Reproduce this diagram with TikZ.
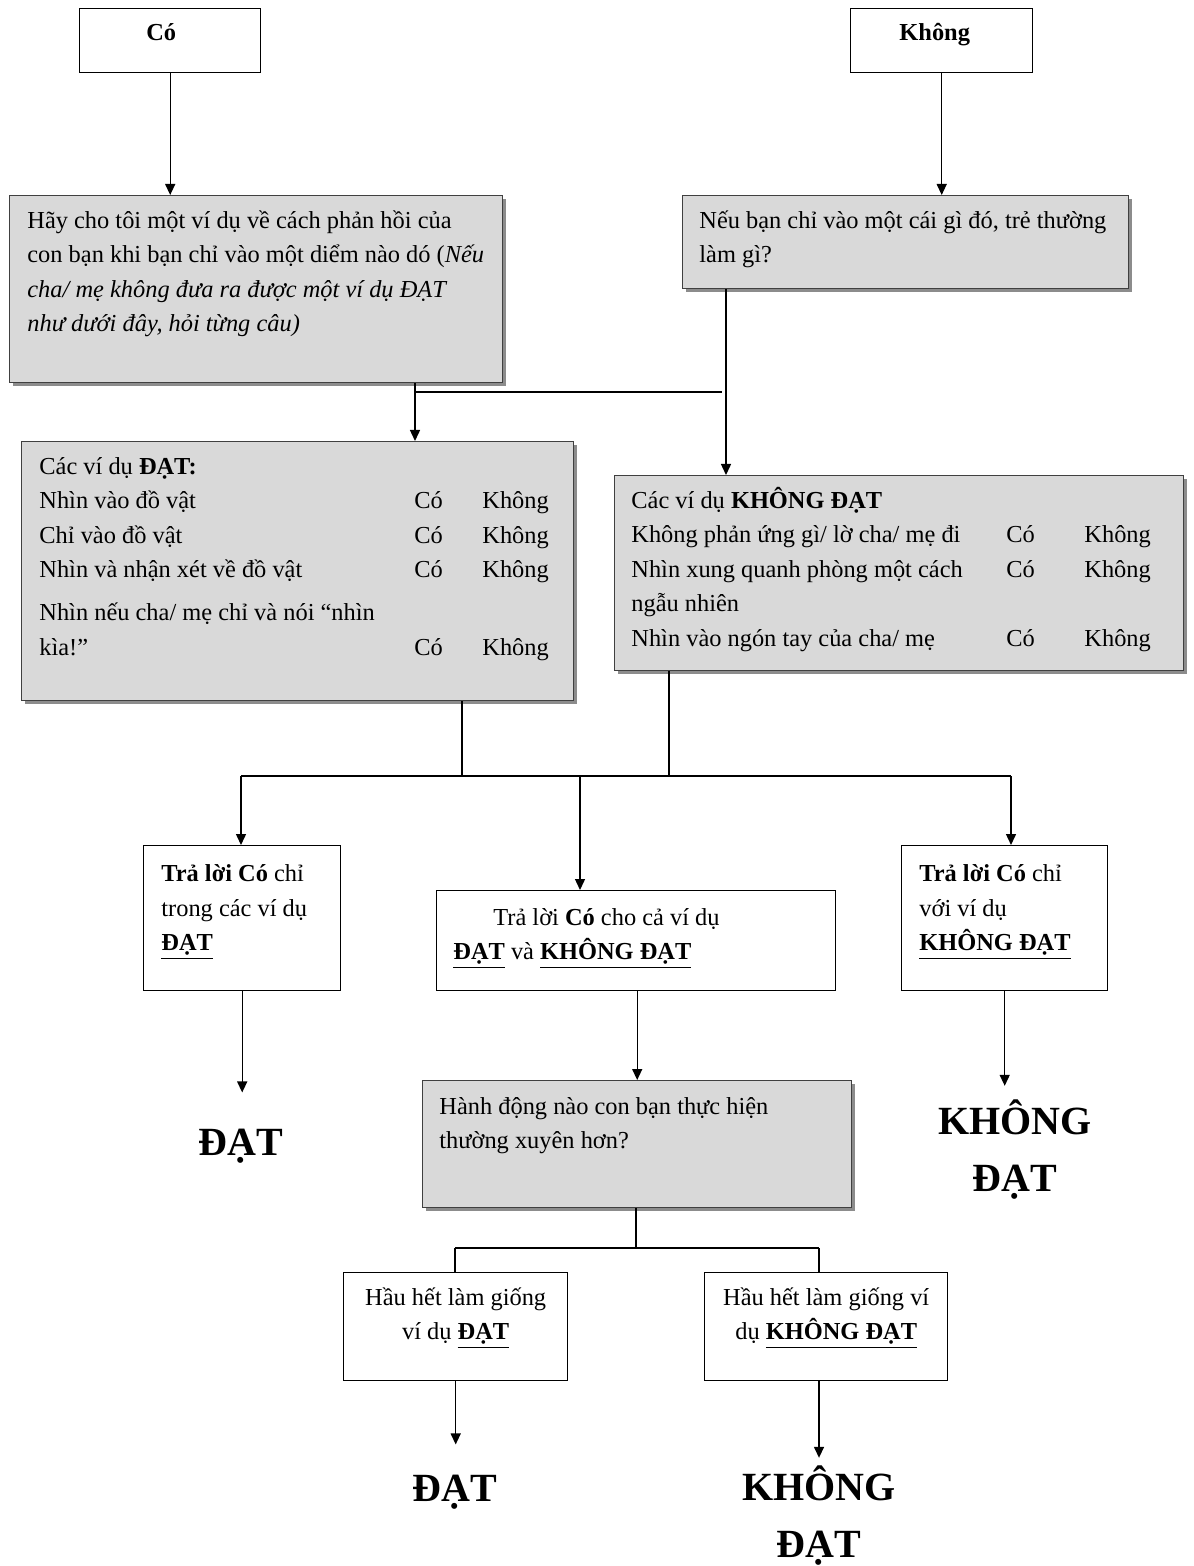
\documentclass[tikz,border=0pt]{standalone}
\usepackage{fontspec}
\setmainfont{Liberation Serif}
\usepackage{tikz}
\usetikzlibrary{arrows,arrows.meta}
\usetikzlibrary{positioning,shadows}
\newcommand{\bodyfont}[0]{\fontsize{12.2pt}{17.25pt}\selectfont}
\newcommand{\bigfont}[0]{\fontsize{20pt}{28.5pt}\selectfont\bfseries}
\newcommand{\dat}[0]{\underline{\textbf{ĐẠT}}}
\newcommand{\kdat}[0]{\underline{\textbf{KHÔNG ĐẠT}}}

\begin{document}
\begin{tikzpicture}[x=0.5pt,y=-0.5pt]
\tikzstyle{plain} = [rectangle, draw=black, line width=0.7pt, fill=white, anchor=north west, inner sep=0pt]
\tikzstyle{shaded} = [plain, draw=black!75, fill=black!15, drop shadow={shadow xshift=1.5pt, shadow yshift=-1.5pt, fill=black!45, opacity=1}]
\tikzstyle{txt} = [anchor=north west, inner xsep=9pt, inner ysep=4.4pt, font=\bodyfont]
\tikzstyle{ctxt} = [anchor=north, inner xsep=0pt, inner ysep=4.4pt, font=\bodyfont]
\tikzstyle{result} = [font=\bigfont, align=center, inner sep=0pt]
\tikzstyle{arrow} = [line width=0.7pt,->,>={Triangle[length=5.5pt,width=5pt]}]
\tikzstyle{line} = [line width=0.7pt]

\useasboundingbox (0,0) rectangle (1193,1566);

\node (coBox) [plain, minimum width=90.5pt, minimum height=32pt, label={[ctxt, xshift=-4.5pt, inner ysep=7.5pt]north:{\textbf{Có}}}] at (79,8) {};
\node (khongBox) [plain, minimum width=91pt, minimum height=32pt, label={[ctxt, xshift=-3.5pt, inner ysep=7.5pt]north:{\textbf{Không}}}] at (850,8) {};

\node (askPass) [shaded, minimum width=246.5pt, minimum height=93.5pt, label={[txt]north west:{\begin{tabular}{@{}l@{}}
Hãy cho tôi một ví dụ về cách phản hồi của\\
con bạn khi bạn chỉ vào một diểm nào dó (\textit{Nếu}\\
\textit{cha/ mẹ không đưa ra được một ví dụ ĐẠT}\\
\textit{như dưới đây, hỏi từng câu)}
\end{tabular}}}] at (9,195) {};
\node (askFail) [shaded, minimum width=223pt, minimum height=46.5pt, label={[txt, inner xsep=8.5pt]north west:{\begin{tabular}{@{}l@{}}
Nếu bạn chỉ vào một cái gì đó, trẻ thường\\
làm gì?
\end{tabular}}}] at (682,195) {};

\node (passEx) [shaded, minimum width=276pt, minimum height=129.5pt, label={[txt]north west:{\begin{tabular}{@{}p{187.5pt}@{}p{34pt}@{}l@{}}
\multicolumn{3}{@{}l}{Các ví dụ \textbf{ĐẠT:}}\\
Nhìn vào đồ vật & Có & Không\\
Chỉ vào đồ vật & Có & Không\\
Nhìn và nhận xét về đồ vật & Có & Không\\[4.25pt]
\multicolumn{3}{@{}l}{Nhìn nếu cha/ mẹ chỉ và nói “nhìn}\\
kìa!” & Có & Không
\end{tabular}}}] at (21,441) {};
\node (failEx) [shaded, minimum width=284.5pt, minimum height=97.5pt, label={[txt, inner xsep=8.5pt]north west:{\begin{tabular}{@{}p{187.5pt}@{}p{39pt}@{}l@{}}
\multicolumn{3}{@{}l}{Các ví dụ \textbf{KHÔNG ĐẠT}}\\
Không phản ứng gì/ lờ cha/ mẹ đi & Có & Không\\
Nhìn xung quanh phòng một cách & Có & Không\\
ngẫu nhiên & & \\
Nhìn vào ngón tay của cha/ mẹ & Có & Không
\end{tabular}}}] at (614,475) {};

\node (ansPass) [plain, minimum width=98.5pt, minimum height=72.5pt, label={[txt, inner ysep=6pt]north west:{\begin{tabular}{@{}l@{}}
\textbf{Trả lời Có} chỉ\\
trong các ví dụ\\
\dat
\end{tabular}}}] at (143,845) {};
\node (ansBoth) [plain, minimum width=199.5pt, minimum height=50pt, label={[txt, inner xsep=8.5pt, inner ysep=5.4pt]north west:{\begin{tabular}{@{}l@{}}
\hspace*{20pt}Trả lời \textbf{Có} cho cả ví dụ\\
\dat{} và \kdat
\end{tabular}}}] at (436,890) {};
\node (ansFail) [plain, minimum width=103pt, minimum height=72.5pt, label={[txt, inner ysep=6pt]north west:{\begin{tabular}{@{}l@{}}
\textbf{Trả lời Có} chỉ\\
với ví dụ\\
\kdat
\end{tabular}}}] at (901,845) {};

\node (often) [shaded, minimum width=214.5pt, minimum height=63.5pt, label={[txt, inner xsep=8.5pt, inner ysep=4.9pt]north west:{\begin{tabular}{@{}l@{}}
Hành động nào con bạn thực hiện\\
thường xuyên hơn?
\end{tabular}}}] at (422,1080) {};

\node (mostPass) [plain, minimum width=112pt, minimum height=54pt, label={[ctxt]north:{\begin{tabular}{@{}c@{}}
Hầu hết làm giống\\
ví dụ \dat
\end{tabular}}}] at (343,1272) {};
\node (mostFail) [plain, minimum width=121.5pt, minimum height=54pt, label={[ctxt]north:{\begin{tabular}{@{}c@{}}
Hầu hết làm giống ví\\
dụ \kdat
\end{tabular}}}] at (704,1272) {};

\node (endPass1) [result] at (241,1146) {ĐẠT};
\node (endFail1) [result] at (1015,1150) {KHÔNG\\ĐẠT};
\node (endPass2) [result] at (455,1492) {ĐẠT};
\node (endFail2) [result] at (819,1516) {KHÔNG\\ĐẠT};

% junction points
\coordinate (j1) at (415,392);
\coordinate (j1end) at (722,392);
\coordinate (j2) at (726,0);
\coordinate (j3) at (462,776);
\coordinate (j4) at (669,776);
\coordinate (jl) at (241,776);
\coordinate (jm) at (580,776);
\coordinate (jr) at (1011,776);
\coordinate (j5) at (636,1248);
\coordinate (j5l) at (455,1248);
\coordinate (j5r) at (819,1248);

\draw [arrow] (coBox.south) -- (coBox.south |- askPass.north);
\draw [arrow] (khongBox.south) -- (khongBox.south |- askFail.north);

\draw [line] (askPass.south -| j1) -- (j1) -- (j1end);
\draw [arrow] (j1) -- (j1 |- passEx.north);
\draw [arrow] (askFail.south -| j2) -- (j2 |- failEx.north);

\draw [line] (passEx.south -| j3) -- (j3);
\draw [line] (failEx.south -| j4) -- (j4);
\draw [line] (jl) -- (jr);
\draw [arrow] (jl) -- (jl |- ansPass.north);
\draw [arrow] (jm) -- (jm |- ansBoth.north);
\draw [arrow] (jr) -- (jr |- ansFail.north);

\draw [arrow, shorten >=18pt] (ansPass.south) -- (endPass1.north -| ansPass.south);
\draw [arrow] (ansBoth.south -| often.north) -- (often.north);
\draw [arrow, shorten >=7pt] (ansFail.south) -- (ansFail.south |- endFail1.north);

\draw [line] (often.south -| j5) -- (j5);
\draw [line] (j5l) -- (j5r);
\draw [line] (j5l) -- (j5l |- mostPass.north);
\draw [line] (j5r) -- (j5r |- mostFail.north);

\draw [arrow, shorten >=15pt] (mostPass.south) -- (endPass2.north -| mostPass.south);
\draw [arrow, shorten >=4pt] (mostFail.south -| j5r) -- (j5r |- endFail2.north);

\end{tikzpicture}
\end{document}
